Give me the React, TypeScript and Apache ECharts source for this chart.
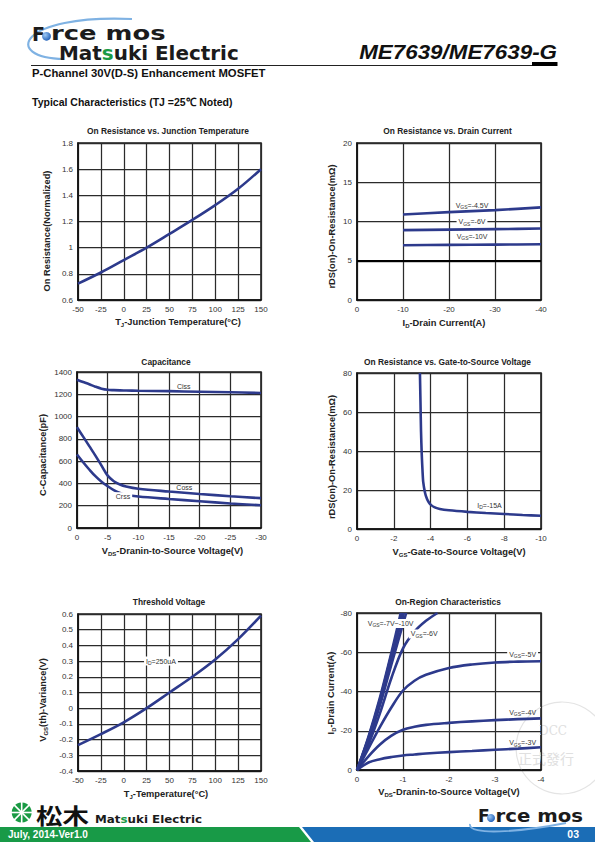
import React, { useEffect, useRef } from 'react';
import * as echarts from 'echarts';

const FONT = '"Liberation Sans", Arial, Helvetica, sans-serif';
const LOGO_FONT = '"DejaVu Sans", Verdana, sans-serif';
const LINE = '#2D3A8C';

// ---- Chart 1: On Resistance vs. Junction Temperature
const tjTemps = [-50, -25, 0, 25, 50, 75, 100, 125, 150];
const rdsNormalized = [0.725, 0.81, 0.905, 1.0, 1.105, 1.212, 1.325, 1.45, 1.6];

// ---- Chart 2: On Resistance vs. Drain Current
const idCurrents = [-10, -20, -30, -40];
const rdsVgs45 = [10.9, 11.2, 11.45, 11.8];
const rdsVgs6 = [8.9, 8.97, 9.03, 9.1];
const rdsVgs10 = [6.98, 7.02, 7.06, 7.1];

// ---- Chart 3: Capacitance
const vdsCap = [0, -1, -2, -3, -4, -5, -6, -7, -8, -10, -15, -20, -25, -30];
const ciss = [1330, 1310, 1290, 1268, 1250, 1240, 1237, 1235, 1234, 1232, 1228, 1223, 1218, 1212];
const coss = [905, 820, 735, 650, 560, 470, 420, 390, 372, 352, 327, 305, 285, 268];
const crss = [660, 590, 525, 465, 415, 375, 340, 315, 298, 282, 260, 240, 220, 204];

// ---- Chart 4: On Resistance vs. Gate-to-Source Voltage
const vgsSweep = [-3.42, -3.45, -3.48, -3.52, -3.56, -3.6, -3.7, -3.8, -3.9, -4.0, -4.2, -4.5, -5, -6, -7, -8, -9, -10];
const rdsVsVgs = [80, 65, 50, 38, 30, 24, 18.5, 15.5, 13.7, 12.5, 11.2, 10.3, 9.6, 8.8, 8.2, 7.7, 7.2, 6.8];

// ---- Chart 5: Threshold Voltage
const tjThreshold = [-50, -25, 0, 25, 50, 75, 100, 125, 150];
const vthVariance = [-0.235, -0.165, -0.09, 0.0, 0.1, 0.2, 0.31, 0.44, 0.59];

// ---- Chart 6: On-Region Characteristics
const vdsOut = [0, -0.25, -0.5, -0.75, -1, -1.25, -1.5, -2, -2.5, -3, -3.5, -4];
const idVgs3 = [0, -3.8, -5.5, -6.6, -7.4, -7.9, -8.4, -9.1, -9.7, -10.3, -10.9, -11.6];
const idVgs4 = [0, -7, -13, -17.5, -20.5, -22, -23, -24, -24.8, -25.4, -25.9, -26.3];
const idVgs5 = [0, -11, -22, -32, -40.5, -45.5, -48.5, -52, -53.8, -54.8, -55.2, -55.4];
const vdsVgs6 = [0, -0.25, -0.5, -0.75, -1, -1.25, -1.5, -1.75];
const idVgs6 = [0, -13, -29, -47, -62, -70.5, -76, -80];
const vdsVgs7 = [0, -0.25, -0.5, -0.75, -1.07];
const idVgs7 = [0, -15, -33, -54, -80];
const vdsVgs8 = [0, -0.25, -0.5, -0.75, -1.02];
const idVgs8 = [0, -16, -35, -57, -80];
const vdsVgs9 = [0, -0.25, -0.5, -0.75, -0.98];
const idVgs9 = [0, -16.5, -36, -59, -80];
const vdsVgs10 = [0, -0.25, -0.5, -0.75, -0.95];
const idVgs10 = [0, -17, -37, -60, -80];

const chartTitles = [
  'On Resistance vs. Junction Temperature',
  'On Resistance vs. Drain Current',
  'Capacitance',
  'On Resistance vs. Gate-to-Source Voltage',
  'Threshold Voltage',
  'On-Region Characteristics',
];

const pts = (xs: number[], ys: number[]) => xs.map((x, i) => [x, ys[i]]);

const grids = [
  { left: 78, top: 143, width: 183, height: 157 },
  { left: 357, top: 143, width: 184, height: 157 },
  { left: 77, top: 372, width: 184, height: 156 },
  { left: 357, top: 373, width: 184, height: 156 },
  { left: 78, top: 614, width: 183, height: 157 },
  { left: 357, top: 613, width: 184, height: 157 },
];
const titlePos = [
  [168, 131.5], [447.5, 131.5], [166, 362], [447.5, 362.5], [169, 602.5], [448, 602.5],
];

const NAME_RICH = {
  b: { fontSize: 9.3, fontWeight: 'bold', fontFamily: FONT, color: '#222', lineHeight: 12 },
  s: { fontSize: 6, fontWeight: 'bold', fontFamily: FONT, color: '#222', lineHeight: 12, verticalAlign: 'bottom' },
};
const TAG_RICH = {
  n: { fontSize: 7, fontFamily: FONT, color: '#333', lineHeight: 9 },
  s: { fontSize: 5, fontFamily: FONT, color: '#333', lineHeight: 9, verticalAlign: 'bottom' },
};

function axis(gridIndex: number, o: any) {
  return {
    type: 'value',
    gridIndex,
    axisLine: { show: true, onZero: false, lineStyle: { color: '#111', width: 1.5 } },
    axisTick: { show: false },
    splitLine: { show: true, lineStyle: { color: '#2b2b2b', width: 1.25 } },
    axisLabel: { color: '#333', fontSize: 8, fontFamily: FONT, margin: 5, formatter: (v: number) => `${+v.toFixed(4)}` },
    nameLocation: 'middle',
    ...o,
    nameTextStyle: { fontSize: 9.3, fontWeight: 'bold', fontFamily: FONT, color: '#222', rich: NAME_RICH, ...(o.nameTextStyle || {}) },
  };
}

function tag(x: number, y: number, text: string, bg = false) {
  return {
    coord: [x, y],
    label: {
      show: true,
      position: 'inside',
      formatter: () => text,
      rich: TAG_RICH,
      backgroundColor: bg ? '#fff' : 'transparent',
      padding: [0, 2],
    },
  };
}

function line(idx: number, data: number[][], name: string, extra: any = {}) {
  return {
    type: 'line',
    name,
    xAxisIndex: idx,
    yAxisIndex: idx,
    data,
    smooth: 0.35,
    showSymbol: false,
    symbol: 'none',
    lineStyle: { color: LINE, width: 2.6 },
    ...extra,
  };
}

function marks(items: any[]) {
  return {
    markPoint: {
      symbol: 'rect',
      symbolSize: 1,
      silent: true,
      itemStyle: { color: 'rgba(0,0,0,0)' },
      data: items,
    },
  };
}

export default function App() {
  const ref = useRef<HTMLDivElement>(null);
  useEffect(() => {
    if (!ref.current) return;
    const chart = echarts.init(ref.current, null, { renderer: 'svg' });

    const xAxes = [
      axis(0, { min: -50, max: 150, interval: 25, name: '{b|T}{s|J}{b|-Junction Temperature(°C)}', nameGap: 16, nameTextStyle: { padding: [0, 0, 0, 17] } }),
      axis(1, { min: -40, max: 0, interval: 10, inverse: true, name: '{b|I}{s|D}{b|-Drain Current(A)}', nameGap: 17, nameTextStyle: { padding: [0, 10, 0, 0] } }),
      axis(2, { min: -30, max: 0, interval: 5, inverse: true, name: '{b|V}{s|DS}{b|-Dranin-to-Source Voltage(V)}', nameGap: 17, nameTextStyle: { padding: [0, 0, 0, 7] } }),
      axis(3, { min: -10, max: 0, interval: 2, inverse: true, name: '{b|V}{s|GS}{b|-Gate-to-Source Voltage(V)}', nameGap: 17, nameTextStyle: { padding: [0, 0, 0, 20] } }),
      axis(4, { min: -50, max: 150, interval: 25, name: '{b|T}{s|J}{b|-Temperature(°C)}', nameGap: 17, nameTextStyle: { padding: [0, 7, 0, 0] } }),
      axis(5, { min: -4, max: 0, interval: 1, inverse: true, name: '{b|V}{s|DS}{b|-Dranin-to-Source Voltage(V)}', nameGap: 16 }),
    ];
    const yAxes = [
      axis(0, { min: 0.6, max: 1.8, interval: 0.2, name: '{b|On Resistance(Normalized)}', nameGap: 25, nameTextStyle: { padding: [0, 19, 0, 0] } }),
      axis(1, { min: 0, max: 20, interval: 5, name: '{b|rDS(on)-On-Resistance(mΩ)}', nameGap: 19, nameTextStyle: { padding: [0, 10, 0, 0] } }),
      axis(2, { min: 0, max: 1400, interval: 200, name: '{b|C-Capacitance(pF)}', nameGap: 28, nameTextStyle: { padding: [0, 10, 0, 0] } }),
      axis(3, { min: 0, max: 80, interval: 20, name: '{b|rDS(on)-On-Resistance(mΩ)}', nameGap: 19, nameTextStyle: { padding: [0, 12, 0, 0] } }),
      axis(4, { min: -0.4, max: 0.6, interval: 0.1, name: '{b|V}{s|GS}{b|(th)-Variance(V)}', nameGap: 29, nameTextStyle: { padding: [0, 15, 0, 0] } }),
      axis(5, { min: -80, max: 0, interval: 20, inverse: true, name: '{b|I}{s|D}{b|-Drain Current(A)}', nameGap: 18, nameTextStyle: { padding: [0, 3, 0, 0] } }),
    ];

    const series: any[] = [
      line(0, pts(tjTemps, rdsNormalized), 'RDS(on) normalized'),

      line(1, pts(idCurrents, rdsVgs45), 'VGS=-4.5V', {
        smooth: 0.2,
        markLine: {
          silent: true, symbol: 'none', label: { show: false },
          lineStyle: { color: '#000', width: 1.8, type: 'solid' },
          data: [{ yAxis: 5 }],
        },
        ...marks([tag(-25, 12.1, '{n|V}{s|GS}{n|=-4.5V}')]),
      }),
      line(1, pts(idCurrents, rdsVgs6), 'VGS=-6V', { smooth: 0.2, ...marks([tag(-25, 10, '{n|V}{s|GS}{n|=-6V}', true)]) }),
      line(1, pts(idCurrents, rdsVgs10), 'VGS=-10V', { smooth: 0.2, ...marks([tag(-25, 8.1, '{n|V}{s|GS}{n|=-10V}')]) }),

      line(2, pts(vdsCap, ciss), 'Ciss', { ...marks([tag(-17.4, 1274, '{n|Ciss}')]) }),
      line(2, pts(vdsCap, coss), 'Coss', { ...marks([tag(-17.5, 365, '{n|Coss}')]) }),
      line(2, pts(vdsCap, crss), 'Crss', { ...marks([tag(-7.5, 281, '{n|Crss}', true)]) }),

      line(3, pts(vgsSweep, rdsVsVgs), 'ID=-15A', { smooth: 0.25, ...marks([tag(-7.2, 12.3, '{n|I}{s|D}{n|=-15A}')]) }),

      line(4, pts(tjThreshold, vthVariance), 'ID=250uA', { ...marks([tag(40.7, 0.3, '{n|I}{s|D}{n|=250uA}', true)]) }),

      line(5, pts(vdsOut, idVgs3), 'VGS=-3V', { ...marks([tag(-3.6, -13.9, '{n|V}{s|GS}{n|=-3V}')]) }),
      line(5, pts(vdsOut, idVgs4), 'VGS=-4V', { ...marks([tag(-3.6, -29.4, '{n|V}{s|GS}{n|=-4V}')]) }),
      line(5, pts(vdsOut, idVgs5), 'VGS=-5V', { ...marks([tag(-3.6, -59, '{n|V}{s|GS}{n|=-5V}', true)]) }),
      line(5, pts(vdsVgs6, idVgs6), 'VGS=-6V', { ...marks([tag(-1.46, -69.3, '{n|V}{s|GS}{n|=-6V}', true)]) }),
      line(5, pts(vdsVgs7, idVgs7), 'VGS=-7V'),
      line(5, pts(vdsVgs8, idVgs8), 'VGS=-8V'),
      line(5, pts(vdsVgs9, idVgs9), 'VGS=-9V'),
      line(5, pts(vdsVgs10, idVgs10), 'VGS=-10V', { ...marks([tag(-0.73, -74.7, '{n|V}{s|GS}{n|=-7V~-10V}', true)]) }),
    ];

    const title = chartTitles.map((t, i) => ({
      text: t,
      left: titlePos[i][0],
      top: titlePos[i][1] - 5.2,
      textAlign: 'center',
      padding: 0,
      textStyle: { fontSize: 8.4, fontWeight: 'bold', fontFamily: FONT, color: '#222', lineHeight: 10.4 },
    }));

    const ballFill = new echarts.graphic.RadialGradient(0.35, 0.35, 0.7, [
      { offset: 0, color: '#9cc8f5' },
      { offset: 1, color: '#1f5fb8' },
    ]);

    const graphic: any[] = [
      // header logo
      { type: 'bezierCurve', shape: { x1: 64, y1: 59, cpx1: 2, cpy1: 58, cpx2: 18, cpy2: 14, x2: 132, y2: 19 }, style: { stroke: '#7fb2e3', lineWidth: 2.2, fill: null } },
      { type: 'text', x: 32, y: 33.6, style: { text: 'F', font: `bold 19px ${LOGO_FONT}`, fill: '#1b1b1b', textVerticalAlign: 'middle' } },
      { type: 'circle', shape: { cx: 46.5, cy: 36.3, r: 4.4 }, style: { fill: ballFill } },
      { type: 'text', x: 51, y: 33.6, scaleX: 1.36, style: { text: 'rce mos', font: `bold 19px ${LOGO_FONT}`, fill: '#1b1b1b', textVerticalAlign: 'middle' } },
      {
        type: 'text', x: 59, y: 53.4, scaleX: 1.05,
        style: {
          text: '{k|Mat}{g|s}{k|uki Electric}', textVerticalAlign: 'middle',
          rich: {
            k: { font: `bold 19px ${LOGO_FONT}`, fill: '#1b1b1b', color: '#1b1b1b' },
            g: { font: `bold 19px ${LOGO_FONT}`, fill: '#1a9a44', color: '#1a9a44' },
          },
        },
      },
      { type: 'text', x: 557, y: 52, scaleX: 1.12, style: { text: 'ME7639/ME7639-G', font: `italic bold 20px ${FONT}`, fill: '#111', textAlign: 'right', textVerticalAlign: 'middle' } },
      { type: 'line', shape: { x1: 31, y1: 65.5, x2: 557, y2: 65.5 }, style: { stroke: '#222', lineWidth: 1 } },
      { type: 'rect', shape: { x: 532, y: 62, width: 25.5, height: 4 }, style: { fill: '#000' } },
      { type: 'text', x: 32, y: 73.3, style: { text: 'P-Channel 30V(D-S) Enhancement MOSFET', font: `bold 11.3px ${FONT}`, fill: '#111', textVerticalAlign: 'middle' } },
      { type: 'text', x: 32, y: 101.5, scaleX: 0.93, style: { text: 'Typical Characteristics (TJ =25℃ Noted)', font: `bold 11.3px ${FONT}`, fill: '#111', textVerticalAlign: 'middle' } },

      // watermark stamp
      { type: 'circle', shape: { cx: 562, cy: 748, r: 46 }, style: { fill: null, stroke: '#e4e4e4', lineWidth: 1.2 } },
      { type: 'text', x: 553, y: 731, style: { text: 'DCC', font: '12px "DejaVu Serif", serif', fill: '#e0e0e0', textAlign: 'center', textVerticalAlign: 'middle' } },
      { type: 'text', x: 546, y: 758, style: { text: '正式發行', font: '14px "Noto Sans CJK TC"', fill: '#e0e0e0', textAlign: 'center', textVerticalAlign: 'middle' } },

      // footer
      { type: 'polygon', shape: { points: [[0, 827], [299, 827], [311, 842], [0, 842]] }, style: { fill: '#189a47' } },
      { type: 'polygon', shape: { points: [[302, 827], [595, 827], [595, 842], [314, 842]] }, style: { fill: '#1b6db6' } },
      { type: 'text', x: 8, y: 834.3, style: { text: 'July, 2014-Ver1.0', font: `bold 10px ${FONT}`, fill: '#fff', textVerticalAlign: 'middle' } },
      { type: 'text', x: 579, y: 834.3, style: { text: '03', font: `bold 10.5px ${FONT}`, fill: '#fff', textAlign: 'right', textVerticalAlign: 'middle' } },
      { type: 'circle', shape: { cx: 21.7, cy: 812.5, r: 10 }, style: { fill: '#1a9a44' } },
      { type: 'line', shape: { x1: 11, y1: 812.5, x2: 32.4, y2: 812.5 }, style: { stroke: '#fff', lineWidth: 1.6 } },
      { type: 'line', shape: { x1: 21.7, y1: 801.8, x2: 21.7, y2: 823.2 }, style: { stroke: '#fff', lineWidth: 1.6 } },
      { type: 'line', shape: { x1: 14.1, y1: 804.9, x2: 29.3, y2: 820.1 }, style: { stroke: '#fff', lineWidth: 1.6 } },
      { type: 'line', shape: { x1: 14.1, y1: 820.1, x2: 29.3, y2: 804.9 }, style: { stroke: '#fff', lineWidth: 1.6 } },
      { type: 'text', x: 36, y: 814.5, scaleX: 1.2, style: { text: '松木', font: 'bold 22px "Noto Sans CJK JP"', fill: '#111', textVerticalAlign: 'middle' } },
      {
        type: 'text', x: 95, y: 819.5, scaleX: 1.08,
        style: {
          text: '{k|Mat}{g|s}{k|uki Electric}', textVerticalAlign: 'middle',
          rich: {
            k: { font: `bold 11px ${LOGO_FONT}`, fill: '#1b1b1b', color: '#1b1b1b' },
            g: { font: `bold 11px ${LOGO_FONT}`, fill: '#1a9a44', color: '#1a9a44' },
          },
        },
      },
      { type: 'bezierCurve', shape: { x1: 470, y1: 824, cpx1: 468, cpy1: 836, cpx2: 520, cpy2: 832, x2: 566, y2: 823 }, style: { stroke: '#7fb2e3', lineWidth: 1.8, fill: null } },
      { type: 'text', x: 478, y: 815.8, style: { text: 'F', font: `bold 17px ${LOGO_FONT}`, fill: '#1b1b1b', textVerticalAlign: 'middle' } },
      { type: 'circle', shape: { cx: 491, cy: 818, r: 4 }, style: { fill: ballFill } },
      { type: 'text', x: 495.5, y: 815.8, scaleX: 1.16, style: { text: 'rce mos', font: `bold 17px ${LOGO_FONT}`, fill: '#1b1b1b', textVerticalAlign: 'middle' } },
    ];

    chart.setOption({
      animation: false,
      backgroundColor: '#fff',
      title,
      grid: grids.map((g) => ({ ...g, show: true, borderColor: '#111', borderWidth: 1.5, backgroundColor: 'transparent', containLabel: false })),
      xAxis: xAxes,
      yAxis: yAxes,
      series,
      graphic,
    });
    return () => chart.dispose();
  }, []);
  return <div ref={ref} style={{ position: 'absolute', left: 0, top: 0, width: 595, height: 842 }} />;
}
